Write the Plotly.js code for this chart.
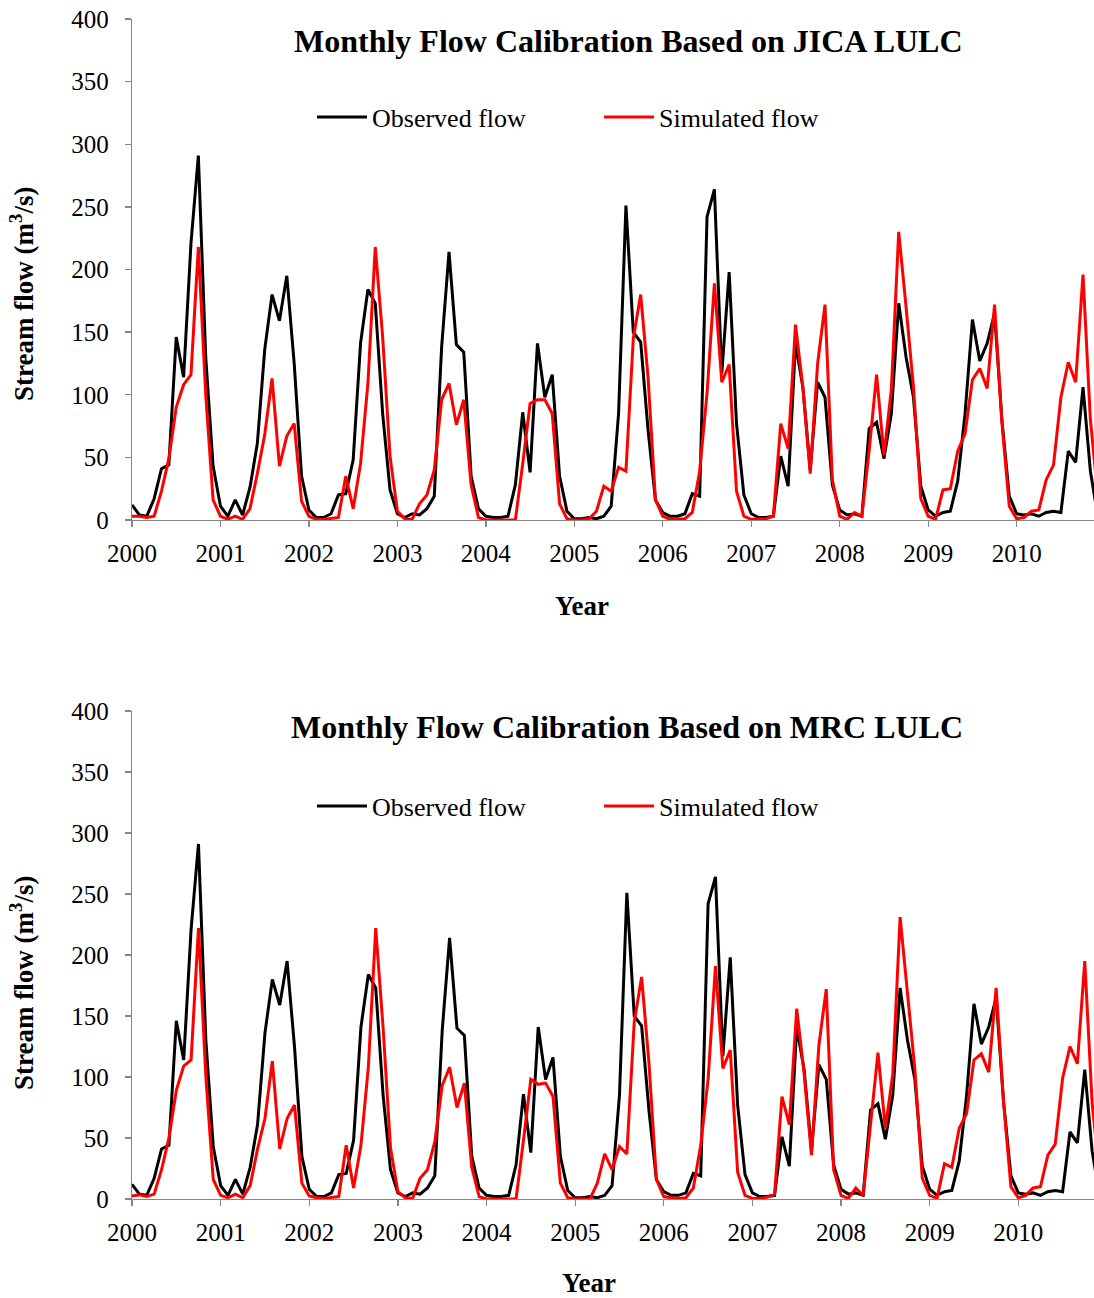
<!DOCTYPE html>
<html>
<head>
<meta charset="utf-8">
<script src="https://cdn.plot.ly/plotly-3.0.1.min.js"></script>
<style>
html,body{margin:0;padding:0;background:#fff;}
#chart{width:1094px;height:1298px;}
</style>
</head>
<body>
<div id="chart"></div>
<script>
// Monthly series, Jan 2000 .. Dec 2010 (132 months)
const observedFlow = [
  12,4,3,17,41,44,146,114,221,291,130,43,
  11,3,16,4,26,61,136,180,159,195,125,35,
  8,2,2,5,20,21,48,141,184,173,85,24,
  5,2,5,4,9,19,138,214,140,134,35,9,
  3,2,2,3,28,86,38,141,98,116,35,7,
  1,1,2,1,3,11,85,251,150,142,72,16,
  6,3,3,5,21,19,242,264,117,198,77,20,
  5,2,2,3,51,27,141,106,40,110,98,28,
  8,4,5,3,73,78,49,85,173,130,98,27,
  8,3,6,7,31,85,160,127,141,165,80,19,
  5,4,5,3,6,7,6,55,46,106,39,3
];
const simulatedJICA = [
  3,3,2,3,23,49,90,108,116,218,100,16,
  3,0.5,3,0.5,9,37,68,113,43,67,77,15,
  3,0.5,0.5,1,2,35,9,45,109,218,146,51,
  7,1,0.5,13,20,40,96,109,76,96,28,2,
  0,0,0,0,0,45,93,96,96,85,13,1,
  0,0,1,7,27,23,42,39,145,180,114,16,
  3,0.5,0.5,1,6,39,101,189,110,124,23,3,
  0.5,0.5,1,3,77,57,156,106,37,125,172,32,
  3,0.5,6,3,56,116,52,104,230,170,106,17,
  3,0.5,24,25,55,69,112,121,105,172,78,11,
  1,2,7,8,32,44,98,126,110,196,80,20
];
const simulatedMRC = [
  2.5,3.5,2,4,24,50,89,109,114,222,100,16,
  3,1,4,1,11,41,66,113,41,66,77,13,
  2.5,1,0.5,1,2,44,9,44,108,222,140,42,
  6,1,0.5,17,24,47,93,108,75,95,26,2,
  0,0,0,0,0,48,98,94,95,84,13,1,
  0,0,0,13,37,24,43,37,145,182,111,16,
  2,1,0.5,1,9,44,98,191,107,122,22,3,
  0.5,0.5,1.5,4,84,61,156,103,36,126,172,24,
  3,0.5,9,3,63,120,58,102,231,169,106,17,
  3,0.5,29,26,58,70,114,119,104,173,80,10,
  1,3,9,10,36,45,99,125,111,195,78,20
];
const years = ['2000','2001','2002','2003','2004','2005','2006','2007','2008','2009','2010'];
const yTicks = [0,50,100,150,200,250,300,350,400];

// month index (0 = Jan 2000) used as x position
const monthIndex = observedFlow.map((_, i) => i);
const yearTickPos = years.map((_, k) => k * 12);

const serif = '"Liberation Serif", "Times New Roman", serif';
const axisGray = '#868686';
const H = 1298, W = 1094;

function xAxis(anchor, end) {
  return {
    anchor: anchor,
    domain: [132/W, 1],
    range: [0, end],
    tickvals: yearTickPos,
    ticktext: years,
    ticks: 'outside', ticklen: 6, tickwidth: 1.3, tickcolor: axisGray,
    showline: true, linecolor: axisGray, linewidth: 1.3,
    showgrid: false, zeroline: false,
    tickfont: {family: serif, size: 25, color: '#000'},
    ticklabelstandoff: 5
  };
}
function yAxis(anchor, dom) {
  return {
    anchor: anchor,
    domain: dom,
    range: [0, 400],
    tickvals: yTicks,
    ticks: 'outside', ticklen: 6, tickwidth: 1.3, tickcolor: axisGray,
    showline: true, linecolor: axisGray, linewidth: 1.3,
    showgrid: false, zeroline: false,
    tickfont: {family: serif, size: 25, color: '#000'},
    ticklabelstandoff: 11
  };
}

const traces = [
  {x: monthIndex, y: observedFlow, type: 'scatter', mode: 'lines', name: 'Observed flow',
   line: {color: '#000000', width: 3}, xaxis: 'x', yaxis: 'y', legend: 'legend'},
  {x: monthIndex, y: simulatedJICA, type: 'scatter', mode: 'lines', name: 'Simulated flow',
   line: {color: '#ff0000', width: 3}, xaxis: 'x', yaxis: 'y', legend: 'legend'},
  {x: monthIndex, y: observedFlow, type: 'scatter', mode: 'lines', name: 'Observed flow',
   line: {color: '#000000', width: 3}, xaxis: 'x2', yaxis: 'y2', legend: 'legend2'},
  {x: monthIndex, y: simulatedMRC, type: 'scatter', mode: 'lines', name: 'Simulated flow',
   line: {color: '#ff0000', width: 3}, xaxis: 'x2', yaxis: 'y2', legend: 'legend2'}
];

const legendBase = {
  orientation: 'h', xanchor: 'left', yanchor: 'middle',
  font: {family: serif, size: 26, color: '#000'},
  bgcolor: 'rgba(0,0,0,0)', borderwidth: 0,
  itemwidth: 50, entrywidth: 222, entrywidthmode: 'pixels',
  traceorder: 'normal'
};

const titleFont = {family: serif, size: 32, color: '#000'};
const axisTitleFont = {family: serif, size: 27, color: '#000'};

const layout = {
  width: W, height: H,
  margin: {l: 0, r: 0, t: 0, b: 0},
  paper_bgcolor: '#ffffff', plot_bgcolor: '#ffffff',
  showlegend: true,
  xaxis: xAxis('y', 130.49),
  yaxis: yAxis('x', [1 - 520/H, 1 - 19/H]),
  xaxis2: xAxis('y2', 130.25),
  yaxis2: yAxis('x2', [1 - 1199/H, 1 - 711/H]),
  legend: Object.assign({}, legendBase, {x: 312/W, y: 1 - 117/H}),
  legend2: Object.assign({}, legendBase, {x: 312/W, y: 1 - 806/H}),
  annotations: [
    {text: '<b>Monthly Flow Calibration Based on JICA LULC</b>', xref: 'paper', yref: 'paper',
     x: 628/W, y: 1 - 41/H, xanchor: 'center', yanchor: 'middle', showarrow: false, font: titleFont},
    {text: '<b>Monthly Flow Calibration Based on MRC LULC</b>', xref: 'paper', yref: 'paper',
     x: 627/W, y: 1 - 727/H, xanchor: 'center', yanchor: 'middle', showarrow: false, font: titleFont},
    {text: '<b>Stream flow (m<sup>3</sup>/s)</b>', xref: 'paper', yref: 'paper', textangle: -90,
     x: 22/W, y: 1 - 294/H, xanchor: 'center', yanchor: 'middle', showarrow: false, font: axisTitleFont},
    {text: '<b>Stream flow (m<sup>3</sup>/s)</b>', xref: 'paper', yref: 'paper', textangle: -90,
     x: 22/W, y: 1 - 983/H, xanchor: 'center', yanchor: 'middle', showarrow: false, font: axisTitleFont},
    {text: '<b>Year</b>', xref: 'paper', yref: 'paper',
     x: 582/W, y: 1 - 606/H, xanchor: 'center', yanchor: 'middle', showarrow: false, font: axisTitleFont},
    {text: '<b>Year</b>', xref: 'paper', yref: 'paper',
     x: 589/W, y: 1 - 1283/H, xanchor: 'center', yanchor: 'middle', showarrow: false, font: axisTitleFont}
  ]
};

Plotly.newPlot('chart', traces, layout, {displayModeBar: false, staticPlot: true}).then(function (gd) {
  // drop empty placeholder text nodes (unused axis-title slots)
  gd.querySelectorAll('text').forEach(function (t) {
    if (!t.textContent || !t.textContent.trim()) t.parentNode.removeChild(t);
  });
});
</script>
</body>
</html>
